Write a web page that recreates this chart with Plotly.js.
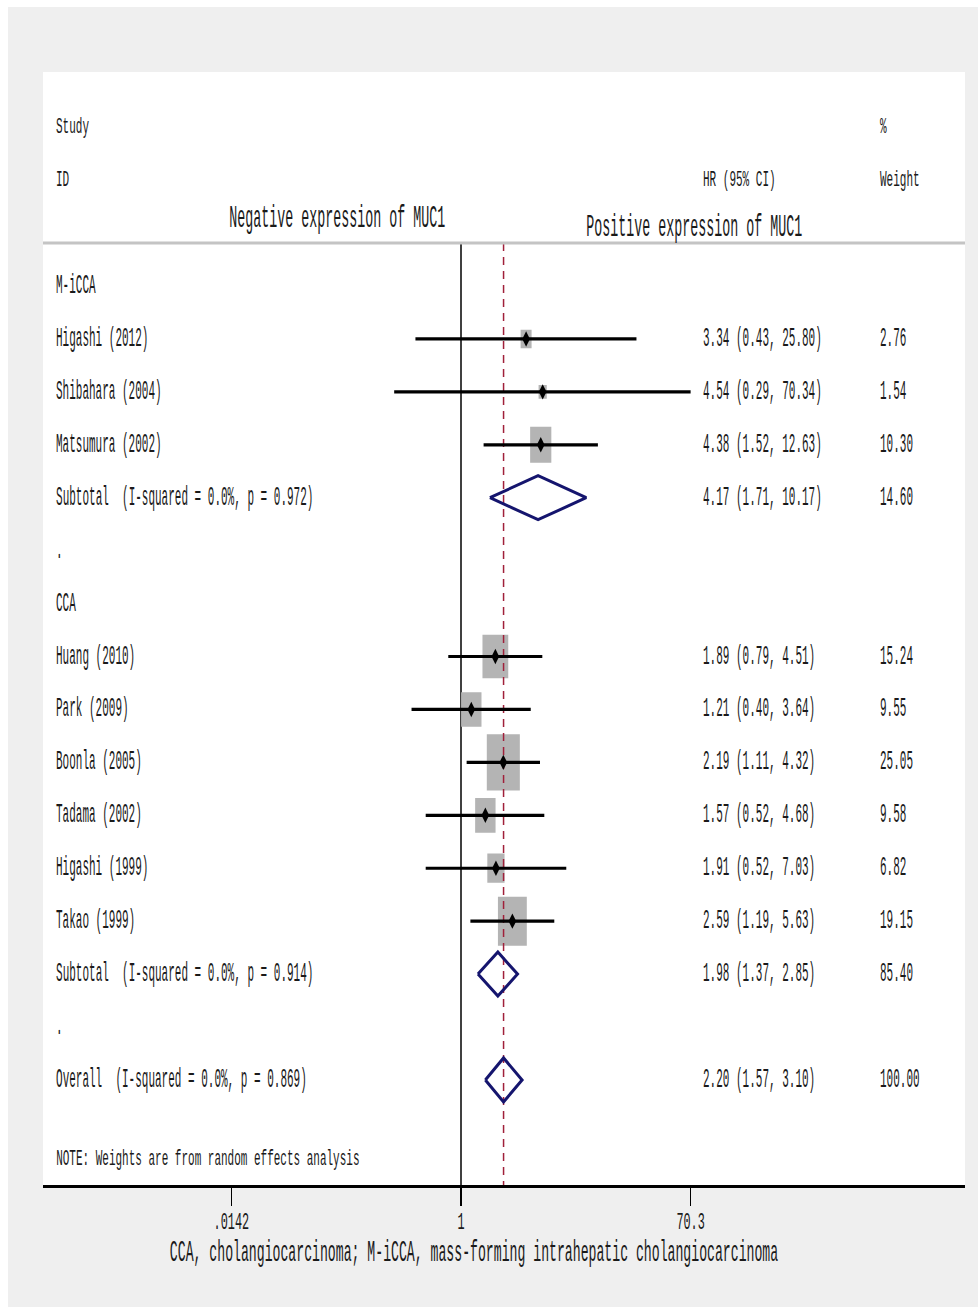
<!DOCTYPE html>
<html><head><meta charset="utf-8">
<script src="https://cdn.plot.ly/plotly-3.0.1.min.js"></script>
<style>html,body{margin:0;padding:0;background:#fff;}#chart{position:absolute;left:8px;top:7px;width:970px;height:1300px;}</style>
</head><body><div id="chart"></div><script>
// ---- data ----
const groups = ["M-iCCA", "CCA"];
const studies = ["Higashi (2012)", "Shibahara (2004)", "Matsumura (2002)",
  "Huang (2010)", "Park (2009)", "Boonla (2005)", "Tadama (2002)", "Higashi (1999)", "Takao (1999)"];
const studyGroup = ["M-iCCA", "M-iCCA", "M-iCCA", "CCA", "CCA", "CCA", "CCA", "CCA", "CCA"];
const hr = [3.34, 4.54, 4.38, 1.89, 1.21, 2.19, 1.57, 1.91, 2.59];
const lo = [0.43, 0.29, 1.52, 0.79, 0.40, 1.11, 0.52, 0.52, 1.19];
const hi = [25.80, 70.34, 12.63, 4.51, 3.64, 4.32, 4.68, 7.03, 5.63];
const weight = [2.76, 1.54, 10.30, 15.24, 9.55, 25.05, 9.58, 6.82, 19.15];
const subHR = [4.17, 1.98];
const subLo = [1.71, 1.37];
const subHi = [10.17, 2.85];
const subWeight = [14.60, 85.40];
const subStat = ["(I-squared = 0.0%, p = 0.972)", "(I-squared = 0.0%, p = 0.914)"];
const overallHR = 2.20, overallLo = 1.57, overallHi = 3.10, overallWeight = 100.00;
const overallStat = "(I-squared = 0.0%, p = 0.869)";
const tickVals = [0.0142, 1, 70.3];
const tickText = [".0142", "1", "70.3"];
const noteText = "NOTE: Weights are from random effects analysis";
const footText = "CCA, cholangiocarcinoma; M-iCCA, mass-forming intrahepatic cholangiocarcinoma";
const leftLabel = "Negative expression of MUC1";
const rightLabel = "Positive expression of MUC1";

// ---- styling helpers ----
const FONT = "'Liberation Mono', 'DejaVu Sans Mono', monospace";
const TXT = "#1a1a1a";
const NB = "\u00a0";
// text classes: font size and target character advance (condensed monospace look)
const STY = {
  body:  {size: 27, charW: 6.6},
  head:  {size: 22, charW: 6.6},
  label: {size: 31, charW: 8.0},
  foot:  {size: 29, charW: 7.9},
  tick:  {size: 24, charW: 7.1}
};
const scaleOf = c => STY[c].charW / (0.6 * STY[c].size);
const pxPerDecade = 124.3;
const pxPerRow = 52.93;
const xPaper = px => (px - 43) / 922;
const fmt = v => v.toFixed(2);
const ci = (h, l, u) => fmt(h) + " (" + fmt(l) + ", " + fmt(u) + ")";

// ---- rows ----
let rows = [];
let r = 0;
groups.forEach((g, gi) => {
  rows.push({y: r++, label: g, kind: "head"});
  studies.forEach((s, i) => { if (studyGroup[i] === g) rows.push({y: r++, label: s, kind: "study", idx: i}); });
  rows.push({y: r++, label: "Subtotal" + NB + NB + subStat[gi], kind: "sub", idx: gi});
  rows.push({y: r++, label: ".", kind: "gap"});
});
const overallRow = r;
rows.push({y: overallRow, label: "Overall" + NB + NB + overallStat, kind: "overall"});
const noteRow = overallRow + 1.5;

const traces = [];
const ann = [];
const annCls = [];
const addText = (x, y, text, cls, anchor, yref) => {
  ann.push({xref: "paper", yref: yref || "y", x: x, y: y, text: text, showarrow: false,
    xanchor: anchor || "left", yanchor: "middle", font: {family: FONT, size: STY[cls].size, color: TXT}});
  annCls.push(cls);
};

let bx = [], by = [], cx = [], cy = [], mx = [], my = [], dx = [], dy = [];
const diamondHalf = 22 / pxPerRow;
const colL = xPaper(54), colHR = xPaper(701), colW = xPaper(878);
rows.forEach(row => {
  addText(colL, row.y, row.label, "body");
  if (row.kind === "study") {
    const i = row.idx;
    const hw = 3.3 * Math.sqrt(weight[i]) / pxPerDecade;
    const hh = 5.6 * Math.sqrt(weight[i]) / pxPerRow;
    const lg = Math.log10(hr[i]);
    const x0 = Math.pow(10, lg - hw), x1 = Math.pow(10, lg + hw);
    bx.push(x0, x1, x1, x0, x0, null);
    by.push(row.y - hh, row.y - hh, row.y + hh, row.y + hh, row.y - hh, null);
    cx.push(lo[i], hi[i], null); cy.push(row.y, row.y, null);
    mx.push(hr[i]); my.push(row.y);
    addText(colHR, row.y, ci(hr[i], lo[i], hi[i]), "body");
    addText(colW, row.y, fmt(weight[i]), "body");
  } else if (row.kind === "sub" || row.kind === "overall") {
    const isSub = row.kind === "sub";
    const h = isSub ? subHR[row.idx] : overallHR;
    const l = isSub ? subLo[row.idx] : overallLo;
    const u = isSub ? subHi[row.idx] : overallHi;
    const w = isSub ? subWeight[row.idx] : overallWeight;
    dx.push(l, h, u, h, l, null);
    dy.push(row.y, row.y - diamondHalf, row.y, row.y + diamondHalf, row.y, null);
    addText(colHR, row.y, ci(h, l, u), "body");
    addText(colW, row.y, fmt(w), "body");
  }
});
addText(colL, noteRow, noteText, "head");
addText(colL, -3, "Study", "head");
addText(colL, -2, "ID", "head");
addText(colHR, -2, "HR (95% CI)", "head");
addText(colW, -3, "%", "head");
addText(colW, -2, "Weight", "head");
addText(xPaper(337), -1.266, leftLabel, "label", "center");
addText(xPaper(694), -1.096, rightLabel, "label", "center");
addText(xPaper(473.5), -68 / 1113, footText, "foot", "center", "paper");

const sepRow = (243 - 286) / pxPerRow;
const yBottom = (1185 - 286) / pxPerRow;
const yTop = (72 - 286) / pxPerRow;

traces.push({type: "scatter", mode: "lines", x: [1, 1], y: [sepRow, yBottom], line: {color: "#000", width: 1.5}, hoverinfo: "skip"});
traces.push({type: "scatter", mode: "lines", x: bx, y: by, fill: "toself", fillcolor: "#b4b4b4", line: {width: 0, color: "#b4b4b4"}, hoverinfo: "skip"});
traces.push({type: "scatter", mode: "lines", x: [overallHR, overallHR], y: [sepRow, yBottom], line: {color: "#a0203a", width: 1.5, dash: "8px,6px"}, hoverinfo: "skip"});
traces.push({type: "scatter", mode: "lines", x: cx, y: cy, line: {color: "#000", width: 3.2}, hoverinfo: "skip"});
traces.push({type: "scatter", mode: "markers", x: mx, y: my, marker: {symbol: "diamond-tall", size: 11, color: "#000"}, hoverinfo: "skip"});
traces.push({type: "scatter", mode: "lines", x: dx, y: dy, line: {color: "#15156e", width: 3}, hoverinfo: "skip"});

const layout = {
  width: 970, height: 1300,
  margin: {l: 35, r: 13, t: 65, b: 122},
  paper_bgcolor: "#efefef", plot_bgcolor: "#ffffff",
  showlegend: false,
  xaxis: {type: "log", range: [(43 - 461) / pxPerDecade, (965 - 461) / pxPerDecade],
    tickvals: tickVals, ticktext: tickText, ticks: "outside", ticklen: 18, tickwidth: 1.5, tickcolor: "#000",
    showline: true, linewidth: 3, linecolor: "#000", showgrid: false, zeroline: false, ticklabelstandoff: 0,
    tickfont: {family: FONT, size: STY.tick.size, color: TXT}, fixedrange: true},
  yaxis: {range: [yBottom, yTop], visible: false, showgrid: false, zeroline: false, fixedrange: true},
  shapes: [{type: "line", xref: "paper", yref: "y", x0: 0, x1: 1, y0: sepRow, y1: sepRow, line: {color: "#c4c4c4", width: 3}}],
  annotations: ann
};

// horizontally condense a text element about its anchor point (optionally nudged vertically)
function condense(el, anchor, s, dyShift) {
  const g = document.createElementNS("http://www.w3.org/2000/svg", "g");
  el.parentNode.insertBefore(g, el);
  g.appendChild(el);
  const bb = g.getBBox();
  const ax = anchor === "left" ? bb.x : bb.x + bb.width / 2;
  g.setAttribute("transform", "translate(" + ax + "," + (dyShift || 0) + ") scale(" + s + ",1) translate(" + (-ax) + ",0)");
}

Plotly.newPlot("chart", traces, layout, {staticPlot: true, displayModeBar: false}).then(gd => {
  gd.querySelectorAll("g.annotation").forEach(a => {
    const i = +a.getAttribute("data-index");
    const t = a.querySelector("text");
    if (t && !isNaN(i)) condense(t, ann[i].xanchor === "left" ? "left" : "center", scaleOf(annCls[i]));
  });
  gd.querySelectorAll(".xtick text").forEach(t => condense(t, "center", scaleOf("tick"), -6));
});
</script></body></html>
